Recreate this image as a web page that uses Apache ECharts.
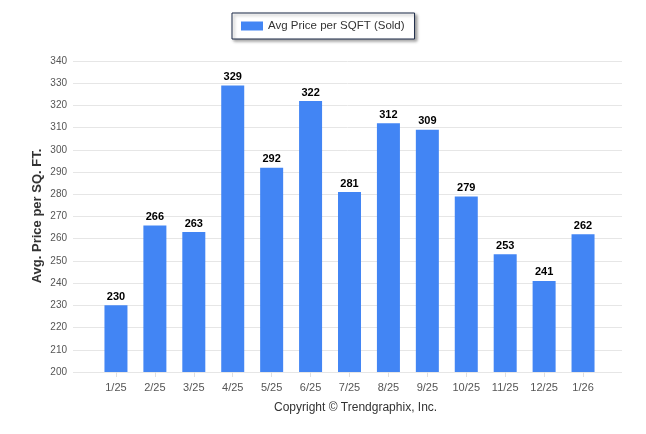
<!DOCTYPE html>
<html><head><meta charset="utf-8">
<script src="https://cdn.jsdelivr.net/npm/echarts@6/dist/echarts.min.js"></script>
<style>html,body{margin:0;padding:0;background:#fff}#c{width:646px;height:434px}</style>
</head><body><div id="c"></div>
<script>
const categories = ['1/25','2/25','3/25','4/25','5/25','6/25','7/25','8/25','9/25','10/25','11/25','12/25','1/26'];
const avgPrice = [230,266,263,329,292,322,281,312,309,279,253,241,262];
const yMin = 200, yMax = 340, yStep = 10;
const FONT = 'Liberation Sans';
const chart = echarts.init(document.getElementById('c'), null, {renderer:'canvas'});
chart.setOption({
  animation:false,
  backgroundColor:'#fff',
  textStyle:{fontFamily:FONT},
  legend:{
    top:13, left:232,
    data:['Avg Price per SQFT (Sold)'],
    itemWidth:22, itemHeight:9, itemGap:6,
    padding:[7,10,7,9],
    borderColor:'#1c2a48', borderWidth:1,
    shadowColor:'rgba(0,0,0,0.35)', shadowBlur:3, shadowOffsetX:2, shadowOffsetY:2,
    backgroundColor:'#fff',
    textStyle:{fontFamily:FONT, fontSize:11.5, color:'#333'},
    icon:'rect'
  },
  grid:[
    {left:73, right:24, top:61, bottom:62},
    {left:96.5, right:43.5, top:61, bottom:62}
  ],
  xAxis:[
    {gridIndex:0, type:'value', min:0, max:1, show:false},
    {gridIndex:1, type:'category', data:categories,
     axisLine:{show:false},
     axisTick:{show:true, alignWithLabel:true, length:5, lineStyle:{color:'#e0e0e0'}},
     axisLabel:{color:'#555', fontSize:11, fontFamily:FONT, margin:10}}
  ],
  yAxis:[
    {gridIndex:0, type:'value', min:yMin, max:yMax, interval:yStep,
     axisLine:{show:false}, axisTick:{show:false},
     axisLabel:{color:'#555', fontSize:10, fontFamily:FONT, margin:6},
     splitLine:{lineStyle:{color:'#e6e6e6'}}},
    {gridIndex:1, type:'value', min:yMin, max:yMax, interval:yStep, show:false}
  ],
  graphic:[
    {type:'line', shape:{x1:73,y1:372.5,x2:622,y2:372.5}, style:{stroke:'#ddd',lineWidth:1}},
    {type:'text', x:37, y:216, rotation:Math.PI/2,
     style:{text:'Avg. Price per SQ. FT.', font:'bold 13px "Liberation Sans"', fill:'#333', align:'center', verticalAlign:'middle'}},
    {type:'text', left:274, top:402, style:{text:'Copyright \u00a9 Trendgraphix, Inc.', font:'12px "Liberation Sans"', fill:'#333'}}
  ],
  series:[
    {name:'Avg Price per SQFT (Sold)', type:'bar', xAxisIndex:1, yAxisIndex:1,
     data:avgPrice, barWidth:23, itemStyle:{color:'#4285f4'},
     label:{show:true, position:'top', distance:3, color:'#000', fontWeight:'bold', fontSize:11, fontFamily:FONT}}
  ]
});
</script></body></html>
